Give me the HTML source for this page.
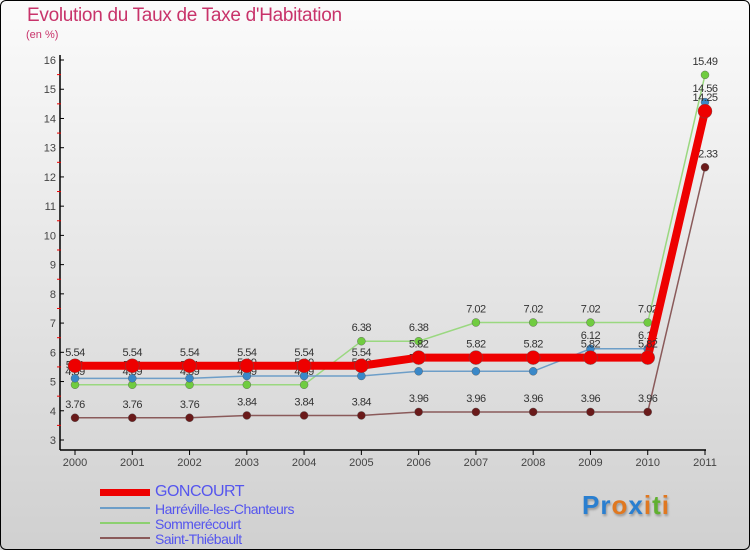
<!DOCTYPE html>
<html><head><meta charset="utf-8"><style>
body{margin:0;}
#wrap{position:relative;width:750px;height:550px;overflow:hidden;background:linear-gradient(#fbfbfb,#d0d0d0);font-family:"Liberation Sans",sans-serif;}
#frame{position:absolute;left:0;top:0;width:748px;height:548px;border:1px solid #000;border-radius:6px;pointer-events:none;}
.title{position:absolute;left:27px;top:5px;font-size:19px;color:#c8336a;letter-spacing:-0.3px;}
.sub{position:absolute;left:26px;top:29px;font-size:11px;color:#c8336a;}
.leg{position:absolute;left:155px;font-size:14px;color:#5555ee;letter-spacing:-0.5px;line-height:16px;}
.sw{position:absolute;left:100px;width:50px;}
.logo{position:absolute;left:582px;top:490px;font-size:26px;font-weight:bold;letter-spacing:1px;text-shadow:1px 2px 2px #999;}
</style></head><body>
<div id="wrap">
<div class="title">Evolution du Taux de Taxe d'Habitation</div>
<div class="sub">(en %)</div>
<svg id="plot" width="750" height="550" style="position:absolute;left:0;top:0"></svg>
<div class="sw" style="top:489px;height:7px;background:#ee0000"></div>
<div class="sw" style="top:507px;height:2px;background:#6d9ec8"></div>
<div class="sw" style="top:522px;height:2px;background:#8cd070"></div>
<div class="sw" style="top:537px;height:2px;background:#8a5a5a"></div>
<div class="leg" style="top:484px;font-size:16px">GONCOURT</div>
<div class="leg" style="top:501px">Harréville-les-Chanteurs</div>
<div class="leg" style="top:516px">Sommerécourt</div>
<div class="leg" style="top:531px">Saint-Thiébault</div>
<div class="logo"><span style="color:#2a7fd0">P</span><span style="color:#2a7fd0">r</span><span style="color:#e07820">o</span><span style="color:#2a7fd0">x</span><span style="color:#e07820">i</span><span style="color:#60b030">t</span><span style="color:#e07820">i</span></div>
<div id="frame"></div>
</div>
<script>
const years=[2000,2001,2002,2003,2004,2005,2006,2007,2008,2009,2010,2011];
const yTicks=[3,4,5,6,7,8,9,10,11,12,13,14,15,16];
const goncourt=[5.54,5.54,5.54,5.54,5.54,5.54,5.82,5.82,5.82,5.82,5.82,14.25];
const harreville=[5.11,5.11,5.11,5.19,5.19,5.19,5.35,5.35,5.35,6.12,6.12,14.56];
const sommerecourt=[4.89,4.89,4.89,4.89,4.89,6.38,6.38,7.02,7.02,7.02,7.02,15.49];
const saintThiebault=[3.76,3.76,3.76,3.84,3.84,3.84,3.96,3.96,3.96,3.96,3.96,12.33];
const NS='http://www.w3.org/2000/svg';
const svg=document.getElementById('plot');
const X=i=>75+i*(630/11);
const Y=v=>440-(v-3)*29.23;
function el(t,a){const e=document.createElementNS(NS,t);for(const k in a)e.setAttribute(k,a[k]);svg.appendChild(e);return e;}
let e=el('line',{x1:60,y1:55,x2:60,y2:450,stroke:'#000','stroke-width':1.5});

e=el('line',{x1:60,y1:450,x2:706,y2:450,stroke:'#000','stroke-width':1.5});

yTicks.forEach(v=>{
  const t=el('line',{x1:60,y1:Y(v),x2:64,y2:Y(v),stroke:'#000'});
  
  if(v<16){const m=el('line',{x1:57,y1:Y(v+0.5),x2:61,y2:Y(v+0.5),stroke:'#e00'});
  }
  const l=el('text',{x:56,y:Y(v)+4,'text-anchor':'end','font-size':11,fill:'#444','font-family':'Liberation Sans'});
  l.textContent=v;
});
years.forEach((yr,i)=>{
  const t=el('line',{x1:X(i),y1:450,x2:X(i),y2:455,stroke:'#000'});
  
  const l=el('text',{x:X(i),y:466,'text-anchor':'middle','font-size':11,fill:'#444','font-family':'Liberation Sans'});
  l.textContent=yr;
});
function series(vals,name,color,lw,r,dot){
  const pts=vals.map((v,i)=>X(i)+','+Y(v)).join(' ');
  const p=el('polyline',{points:pts,fill:'none',stroke:color,'stroke-width':lw});
  
  vals.forEach((v,i)=>{
    const c=el('circle',{cx:X(i),cy:Y(v),r:r,fill:dot,stroke:'#555','stroke-width':0.4});
    
    const l=el('text',{x:X(i),y:Y(v)-10,'text-anchor':'middle','font-size':11,fill:'#333','font-family':'Liberation Sans','letter-spacing':'-0.5'});
    l.textContent=v;
  });
}
series(saintThiebault,'saint-thiebault','#8a5a5a',1.5,4,'#6a1a1a');
series(sommerecourt,'sommerecourt','#9ad880',1.5,4,'#70cc40');
series(harreville,'harreville','#6d9ec8',1.5,4,'#3a88c8');
series(goncourt,'goncourt','#ee0000',8,7,'#ee0000');
</script>
</body></html>
